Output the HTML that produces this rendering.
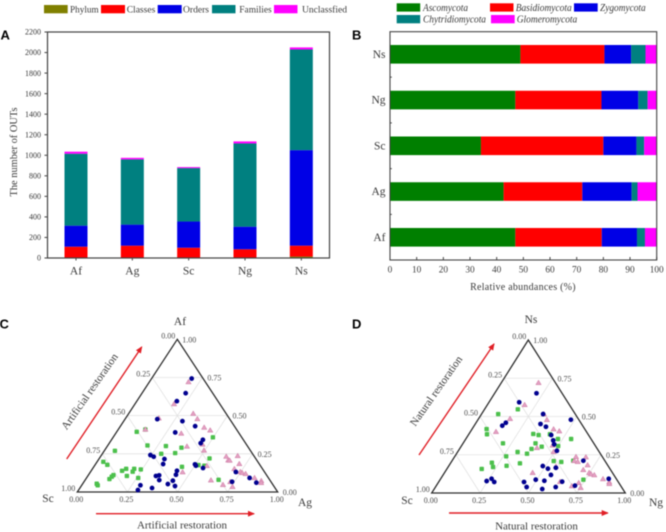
<!DOCTYPE html>
<html lang="en">
<head>
<meta charset="utf-8">
<title>Fungal OTU composition charts</title>
<style>
html,body{margin:0;padding:0;background:#fff;width:666px;height:532px;overflow:hidden}
svg{display:block;filter:blur(.5px)}
text{font-family:"Liberation Serif",serif;fill:#3a3a3a}
.panel{font-family:"Liberation Sans",sans-serif;font-weight:bold;font-size:13px;fill:#000}
.it{font-style:italic;font-size:10px}
.leg{font-size:9.6px}
.tick{font-size:8px}
.tern{font-size:8px;fill:#4d4d4d}
.cat{font-size:11.5px}
.title{font-size:11px}
</style>
</head>
<body>
<svg id="fig" xmlns="http://www.w3.org/2000/svg" width="666" height="532" viewBox="0 0 666 532">
  <defs>
    <marker id="arrowhead" markerWidth="7" markerHeight="6" refX="6" refY="3" orient="auto" markerUnits="userSpaceOnUse">
      <polygon points="0,0 7,3 0,6" fill="#e01f26"></polygon>
    </marker>
  </defs>

  <g>
    <rect x="44" y="5" width="23.7" height="8.3" fill="#808000"></rect>
    <text class="leg" x="70" y="12.5" textLength="28.7" lengthAdjust="spacingAndGlyphs">Phylum</text>
    <rect x="101" y="5" width="24" height="8.3" fill="#ff0000"></rect>
    <text class="leg" x="126.7" y="12.5" textLength="28.6" lengthAdjust="spacingAndGlyphs">Classes</text>
    <rect x="157.7" y="5" width="24" height="8.3" fill="#0000e6"></rect>
    <text class="leg" x="183" y="12.5" textLength="26" lengthAdjust="spacingAndGlyphs">Orders</text>
    <rect x="212" y="5" width="23.5" height="8.3" fill="#008080"></rect>
    <text class="leg" x="239.3" y="12.5" textLength="32.4" lengthAdjust="spacingAndGlyphs">Families</text>
    <rect x="274" y="5" width="23.5" height="8.3" fill="#ff00ff"></rect>
    <text class="leg" x="302" y="12.5" textLength="45" lengthAdjust="spacingAndGlyphs">Unclassfied</text>
  </g>

  <g>
    <rect x="396.7" y="3.3" width="23.5" height="8.3" fill="#007f00"></rect>
    <text class="it" x="423" y="11" textLength="45" lengthAdjust="spacingAndGlyphs">Ascomycota</text>
    <rect x="490" y="3.3" width="23.5" height="8.3" fill="#ff0000"></rect>
    <text class="it" x="515.7" y="11" textLength="56" lengthAdjust="spacingAndGlyphs">Basidiomycota</text>
    <rect x="574" y="3.3" width="23.7" height="8.3" fill="#0000e6"></rect>
    <text class="it" x="600" y="11" textLength="45.7" lengthAdjust="spacingAndGlyphs">Zygomycota</text>
    <rect x="396.7" y="15" width="23.5" height="8.3" fill="#008080"></rect>
    <text class="it" x="423" y="22.6" textLength="63" lengthAdjust="spacingAndGlyphs">Chytridiomycota</text>
    <rect x="491" y="15" width="23.7" height="8.3" fill="#ff00ff"></rect>
    <text class="it" x="516.7" y="22.6" textLength="60.6" lengthAdjust="spacingAndGlyphs">Glomeromycota</text>
  </g>

  <text class="panel" x="0.5" y="39.5">A</text>
  <text class="panel" x="352" y="39.5">B</text>
  <text class="panel" x="-0.5" y="328.5">C</text>
  <text class="panel" x="352" y="328.5">D</text>

  <g id="chartA"></g>
  <text transform="translate(17,152) rotate(-90)" text-anchor="middle" font-size="10.4">The number of OUTs</text>

  <g id="chartB"></g>
  <text x="523" y="290" text-anchor="middle" font-size="10" letter-spacing=".25">Relative abundances (%)</text>

  <g id="ternC"></g>
  <g id="ternD"></g>

  <text class="cat" x="180" y="325" text-anchor="middle">Af</text>
  <text class="cat" x="48" y="502" text-anchor="middle">Sc</text>
  <text class="cat" x="305" y="506" text-anchor="middle">Ag</text>
  <text class="cat" x="531" y="323" text-anchor="middle">Ns</text>
  <text class="cat" x="407" y="504" text-anchor="middle">Sc</text>
  <text class="cat" x="656" y="506" text-anchor="middle">Ng</text>

  <line x1="96" y1="513.7" x2="254" y2="513.7" stroke="#e01f26" stroke-width="1.4" marker-end="url(#arrowhead)"></line>
  <line x1="66.7" y1="459" x2="141.7" y2="347" stroke="#e01f26" stroke-width="1.4" marker-end="url(#arrowhead)"></line>
  <line x1="449" y1="513" x2="607.7" y2="513" stroke="#e01f26" stroke-width="1.4" marker-end="url(#arrowhead)"></line>
  <line x1="419" y1="455" x2="494" y2="344" stroke="#e01f26" stroke-width="1.4" marker-end="url(#arrowhead)"></line>

  <text class="title" x="182" y="528.5" text-anchor="middle">Artificial restoration</text>
  <text class="title" transform="translate(92.5,393.5) rotate(-55)" text-anchor="middle">Artificial restoration</text>
  <text class="title" x="536.5" y="529.5" text-anchor="middle">Natural restoration</text>
  <text class="title" transform="translate(439,393) rotate(-55)" text-anchor="middle">Natural restoration</text>
</svg>

<script>
// Panel A data
const aCategories = ['Af', 'Ag', 'Sc', 'Ng', 'Ns'];
const aPhylum = [4, 4, 4, 4, 14];
const aClasses = [106, 116, 96, 81, 106];
const aOrders = [205, 205, 255, 220, 930];
const aFamilies = [700, 635, 520, 810, 980];
const aUnclassified = [20, 15, 10, 20, 20];
const aTicks = [0, 200, 400, 600, 800, 1000, 1200, 1400, 1600, 1800, 2000, 2200];

// Panel B data
const bCategories = ['Af', 'Ag', 'Sc', 'Ng', 'Ns'];
const bAscomycota = [47, 42.6, 34.1, 47, 48.9];
const bBasidiomycota = [32.4, 29.5, 45.9, 32.3, 31.5];
const bZygomycota = [13.2, 18.5, 12.4, 13.8, 10];
const bChytridiomycota = [3, 2.2, 2.9, 3.5, 5.4];
const bGlomeromycota = [4.4, 7.2, 4.7, 3.4, 4.2];
const bTicks = [0, 10, 20, 30, 40, 50, 60, 70, 80, 90, 100];

// Ternary tick values
const ternaryTicks = ['0.00', '0.25', '0.50', '0.75', '1.00'];
const ternaryGrid = [0.25, 0.5, 0.75];

// Ternary points: [top-component, right-component]
const cGreen = [[.394,.1],[.27,.053],[.305,.198],[.25,.294],[.301,.292],[.198,.031],[.178,.061],[.152,.168],[.139,.154],[.152,.208],[.133,.21],[.148,.243],[.105,.195],[.111,.125],[.1,.122],[.085,.118],[.092,.258],[.054,.07],[.044,.08],[.358,.498],[.29,.375],[.255,.361],[.22,.55],[.165,.44],[.176,.517],[.172,.548],[.08,.665],[.41,.135]];
const cPink = [[.721,.195],[.577,.195],[.484,.165],[.41,.135],[.514,.322],[.479,.36],[.423,.422],[.405,.461],[.384,.327],[.312,.469],[.273,.496],[.299,.398],[.131,.46],[.172,.561],[.233,.627],[.209,.649],[.207,.657],[.237,.682],[.185,.716],[.152,.708],[.133,.747],[.126,.76],[.12,.78],[.093,.838],[.074,.881],[.061,.887],[.078,.628],[.048,.703],[.067,.73],[.035,.757]];
const cBlue = [[.477,.161],[.242,.244],[.231,.266],[.216,.327],[.183,.337],[.105,.34],[.109,.354],[.078,.37],[.052,.426],[.044,.293],[.013,.296],[.026,.36],[.743,.2],[.647,.218],[.595,.2],[.464,.293],[.431,.373],[.39,.294],[.342,.456],[.32,.456],[.139,.428],[.113,.436],[.074,.44],[.039,.468],[.181,.497],[.172,.506],[.157,.549],[.131,.726],[.092,.814],[.061,.863],[.067,.739]];

const dGreen = [[.516,.086],[.418,.075],[.384,.094],[.325,.206],[.24,.265],[.178,.298],[.198,.212],[.17,.232],[.157,.18],[.547,.172],[.386,.332],[.379,.363],[.384,.419],[.325,.374],[.303,.417],[.288,.372],[.257,.364],[.268,.31],[.194,.359],[.353,.476],[.353,.544],[.307,.5],[.209,.526],[.203,.568],[.211,.626],[.087,.74]];
const dPink = [[.401,.132],[.486,.162],[.721,.192],[.577,.192],[.516,.322],[.479,.356],[.418,.421],[.405,.457],[.296,.396],[.312,.469],[.27,.495],[.174,.555],[.133,.455],[.074,.626],[.237,.627],[.211,.631],[.205,.652],[.235,.679],[.183,.714],[.152,.707],[.133,.747],[.124,.761],[.118,.781],[.092,.839],[.072,.881],[.061,.887],[.046,.701],[.067,.726],[.035,.752]];
const dBlue = [[.44,.145],[.459,.154],[.078,.245],[.093,.263],[.072,.287],[.593,.156],[.652,.216],[.479,.48],[.451,.337],[.433,.374],[.516,.318],[.379,.428],[.344,.456],[.318,.474],[.276,.509],[.176,.486],[.159,.521],[.165,.559],[.118,.557],[.074,.637],[.08,.542],[.087,.494],[.072,.441],[.039,.471],[.026,.558],[.039,.621],[.048,.716],[.211,.678],[.093,.868]];

const NS = 'http://www.w3.org/2000/svg';
function mk(parent, tag, attrs, txt) {
  const el = document.createElementNS(NS, tag);
  for (const k in attrs) el.setAttribute(k, attrs[k]);
  if (txt !== undefined) el.textContent = txt;
  parent.appendChild(el);
  return el;
}
const AXIS = '#444';

// ---------- Panel A ----------
(function () {
  const g = document.getElementById('chartA');
  const L = 47.5, R = 329.5, T = 32, B = 258;
  const y = v => B - v / 2200 * (B - T);
  const catX = i => 76 + i * 56.33;
  const barW = 23;
  const series = [
    ['phylum', aPhylum, '#808000'],
    ['classes', aClasses, '#ff0000'],
    ['orders', aOrders, '#0000e6'],
    ['families', aFamilies, '#008080'],
    ['unclassified', aUnclassified, '#ff00ff']
  ];
  aCategories.forEach((c, i) => {
    let cum = 0;
    series.forEach(s => {
      const v = s[1][i];
      const r = mk(g, 'rect', {x: catX(i) - barW / 2, y: y(cum + v), width: barW, height: y(cum) - y(cum + v), fill: s[2]});
      
      
      cum += v;
    });
  });
  const frame = mk(g, 'rect', {x: L, y: T, width: R - L, height: B - T, fill: 'none', stroke: AXIS, 'stroke-width': 1.2});
  
  
  aTicks.forEach(t => {
    const ln = mk(g, 'line', {x1: L - 3, x2: L, y1: y(t), y2: y(t), stroke: AXIS, 'stroke-width': 1});
    
    
    const lb = mk(g, 'text', {x: L - 6.5, y: y(t) + 2.7, 'text-anchor': 'end', class: 'tick'}, String(t));
    
    
  });
  aCategories.forEach((c, i) => {
    const ln = mk(g, 'line', {x1: catX(i), x2: catX(i), y1: B, y2: B + 2.5, stroke: AXIS, 'stroke-width': 1});
    
    
    const lb = mk(g, 'text', {x: catX(i), y: 274.5, 'text-anchor': 'middle', class: 'cat'}, c);
    
    
  });
})();

// ---------- Panel B ----------
(function () {
  const g = document.getElementById('chartB');
  const L = 390, R = 656.7, T = 31.7, B = 260;
  const x = v => L + v / 100 * (R - L);
  const catY = i => 237.3 - i * 45.75;
  const barH = 18.6;
  const series = [
    ['ascomycota', bAscomycota, '#007f00'],
    ['basidiomycota', bBasidiomycota, '#ff0000'],
    ['zygomycota', bZygomycota, '#0000e6'],
    ['chytridiomycota', bChytridiomycota, '#008080'],
    ['glomeromycota', bGlomeromycota, '#ff00ff']
  ];
  bCategories.forEach((c, i) => {
    let cum = 0;
    series.forEach(s => {
      const v = s[1][i];
      const r = mk(g, 'rect', {x: x(cum), y: catY(i) - barH / 2, width: x(cum + v) - x(cum), height: barH, fill: s[2]});
      
      
      cum += v;
    });
    const lb = mk(g, 'text', {x: 385.5, y: catY(i) + 3.5, 'text-anchor': 'end', class: 'cat'}, c);
    
    
    if (i < bCategories.length - 1) {
      const ln = mk(g, 'line', {x1: L, x2: L + 1.8, y1: catY(i) - 22.9, y2: catY(i) - 22.9, stroke: AXIS, 'stroke-width': 1});
      
      
    }
  });
  const frame = mk(g, 'rect', {x: L, y: T, width: R - L, height: B - T, fill: 'none', stroke: AXIS, 'stroke-width': 1.1});
  
  
  bTicks.forEach(t => {
    const ln = mk(g, 'line', {x1: x(t), x2: x(t), y1: B, y2: B - 3, stroke: AXIS, 'stroke-width': 1});
    
    
    const lb = mk(g, 'text', {x: x(t), y: 272.3, 'text-anchor': 'middle', 'font-size': 9.3}, String(t));
    
    
  });
})();

// ---------- Ternary panels ----------
function drawTernary(id, left, right, apexX, apexY, baseY, green, pink, blue) {
  const g = document.getElementById(id);
  const w = right - left, h = baseY - apexY;
  const P = (t, r) => [left + w * r + (apexX - left) * t, baseY - h * t];

  ternaryGrid.forEach(v => {
    [[P(v, 0), P(v, 1 - v)], [P(0, v), P(1 - v, v)], [P(1 - v, 0), P(0, 1 - v)]].forEach(pair => {
      const ln = mk(g, 'line', {x1: pair[0][0], y1: pair[0][1], x2: pair[1][0], y2: pair[1][1], stroke: '#e2e2e2', 'stroke-width': 0.8});
      
      
    });
  });

  const outline = mk(g, 'polygon', {points: [P(1, 0), P(0, 0), P(0, 1)].map(p => p.join(',')).join(' '), fill: 'none', stroke: '#2e2e2e', 'stroke-width': 1.3});
  
  

  ternaryTicks.forEach((label, i) => {
    const v = i * 0.25;
    const a = P(1 - v, 0);
    const lt = mk(g, 'text', {x: a[0] - 2, y: a[1] - 1, 'text-anchor': 'end', class: 'tern'}, label);
    
    
    const b = P(v, 1 - v);
    const rt = mk(g, 'text', {x: b[0] + 5, y: b[1] + 3, class: 'tern'}, label);
    
    
    const c = P(0, v);
    const bt = mk(g, 'text', {x: c[0] - 1, y: baseY + 10, 'text-anchor': 'middle', class: 'tern'}, label);
    
    
  });

  green.forEach(d => {
    const p = P(d[0], d[1]);
    const m = mk(g, 'rect', {x: p[0] - 2.2, y: p[1] - 2.2, width: 4.4, height: 4.4, rx: 0.8, fill: '#4cc04c'});
    
    
  });
  pink.forEach(d => {
    const p = P(d[0], d[1]);
    const pts = [[p[0], p[1] - 2.6], [p[0] + 2.7, p[1] + 2], [p[0] - 2.7, p[1] + 2]];
    const m = mk(g, 'polygon', {points: pts.map(q => q.join(',')).join(' '), fill: '#e3a0c2', stroke: '#cc7aa2', 'stroke-width': 0.5});
    
    
  });
  blue.forEach(d => {
    const p = P(d[0], d[1]);
    const m = mk(g, 'circle', {cx: p[0], cy: p[1], r: 2.4, fill: '#00008f'});
    
    
  });
}
drawTernary('ternC', 77.3, 277.7, 177.3, 339.3, 492, cGreen, cPink, cBlue);
drawTernary('ternD', 431.7, 625.3, 528.3, 340, 493, dGreen, dPink, dBlue);
</script>
</body>
</html>
